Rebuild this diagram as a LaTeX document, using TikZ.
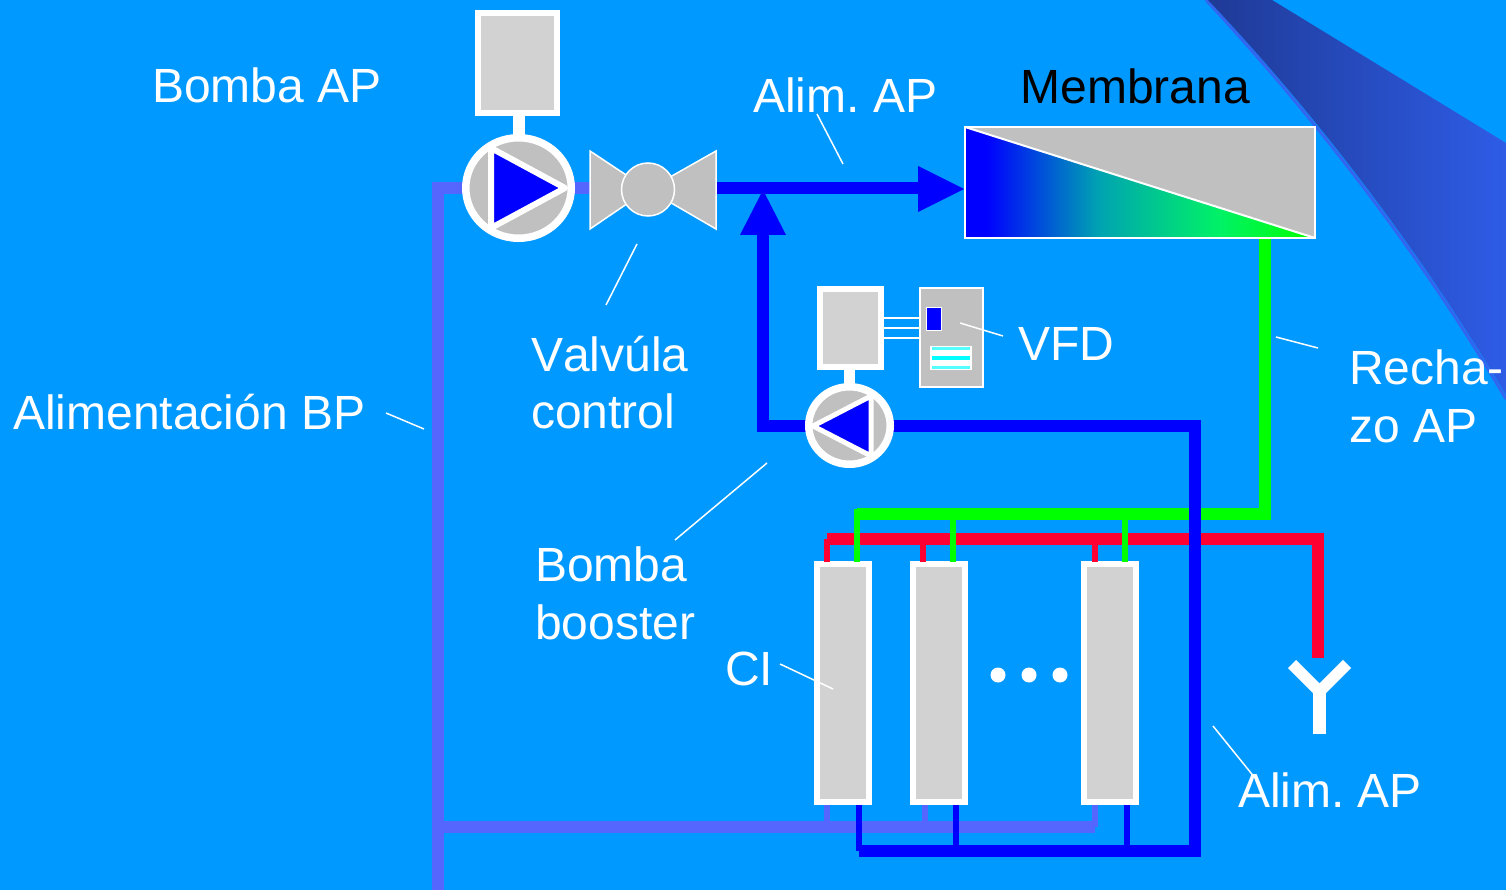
\documentclass[tikz,border=0pt]{standalone}
\usepackage{fontspec}
\usetikzlibrary{shapes.geometric}
\setmainfont[Kerning=Off]{Liberation Sans}
\definecolor{bgblue}{HTML}{0099FF}
\definecolor{lpblue}{HTML}{5566FF}
\definecolor{hpred}{HTML}{FF0033}
\definecolor{hpgreen}{HTML}{00FF00}
\definecolor{panelgray}{HTML}{C0C0C0}
\definecolor{motorgray}{HTML}{D2D2D2}
\definecolor{swoopA}{HTML}{1F3A96}
\definecolor{swoopB}{HTML}{2E5CE6}
\definecolor{swoopEdge}{HTML}{3366F0}
\definecolor{stripeA}{HTML}{00FFFF}
\definecolor{stripeB}{HTML}{55FFFF}
\definecolor{gradA}{HTML}{00A2B2}
\definecolor{gradB}{HTML}{00F266}
\pgfdeclarehorizontalshading{memgrad}{100bp}{color(0bp)=(blue); color(25bp)=(blue); color(28bp)=(blue); color(44bp)=(gradA); color(61.4bp)=(gradB); color(75bp)=(green); color(100bp)=(green)}
\tikzset{
  lbl/.style={anchor=base west,inner sep=0,outer sep=0,text=white,font=\fontsize{48}{50}\selectfont},
  leader/.style={draw=white,line width=1.5pt},
  pipeL/.style={line width=12pt,line join=miter},
  pipeS/.style={line width=6pt},
  motorbox/.style={draw=white,line width=6pt,fill=motorgray,inner sep=0,outer sep=0,rectangle},
  pumpbody/.style={ellipse,draw=white,fill=panelgray,inner sep=0,outer sep=0,line width=7.5pt},
  thin panel/.style={draw=white,line width=1.5pt,fill=panelgray},
  colbox/.style={motorbox,minimum width=52pt,minimum height=238pt},
  dotn/.style={circle,fill=white,inner sep=0,outer sep=0,minimum size=15pt}
}
\begin{document}
\begin{tikzpicture}[x=1pt,y=-1pt]
\useasboundingbox (0,0) rectangle (1506,890);
\fill[bgblue] (0,0) rectangle (1506,890);
% swoosh
\draw[swoopEdge,line width=3pt] (1206,0) .. controls (1313,115) and (1420,253) .. (1506,399);
\shade[left color=swoopA,right color=swoopB] (1208,0) .. controls (1315,113) and (1420,250) .. (1506,395) -- (1506,143) -- (1272,0) -- cycle;

% named coordinates
\coordinate (lpbot) at (438,890);
\coordinate (lpcorner) at (438,188);
\coordinate (lpbus) at (438,827);
\coordinate (lpend) at (1095,827);
\coordinate (feedstart) at (700,188);
\coordinate (boostcorner) at (763,426);
\coordinate (boosttip) at (763,190);
\coordinate (boostR) at (1195,426);
\coordinate (boostB) at (1195,851);
\coordinate (hpbusL) at (859,851);
\coordinate (rejtop) at (1265,238);
\coordinate (rejbot) at (1265,514);
\coordinate (rejL) at (857,514);
\coordinate (redL) at (827,539);
\coordinate (redR) at (1318,539);
\coordinate (redB) at (1318,658);

% columns
\node[colbox] (c1) at (843,683) {};
\node[colbox] (c2) at (939,683) {};
\node[colbox] (c3) at (1110,683) {};

% LP pipe
\draw[lpblue,pipeL] (lpbot) -- (lpcorner) -- (600,188);
\draw[lpblue,pipeL] (lpbus) -- (lpend);
\draw[lpblue,pipeS] (827,805) -- (827,827);
\draw[lpblue,pipeS] (925,805) -- (925,827);
\draw[lpblue,pipeS] (lpend) -- (1095,805);

% red
\draw[hpred,pipeS] (827,562) -- (redL);
\draw[hpred,pipeS] (923,562) -- (923,539);
\draw[hpred,pipeS] (1095,562) -- (1095,539);
\draw[hpred,pipeL] (redL) -- (redR) -- (redB);

% green
\draw[hpgreen,pipeL] (rejtop) -- (rejbot) -- (rejL);
\draw[hpgreen,pipeS] (857,562) -- (857,509);
\draw[hpgreen,pipeS] (953,562) -- (953,514);
\draw[hpgreen,pipeS] (1125,562) -- (1125,514);

% HP blue
\draw[blue,pipeS] (859,805) -- (hpbusL);
\draw[blue,pipeS] (956,805) -- (956,851);
\draw[blue,pipeS] (1127,805) -- (1127,851);
\draw[blue,pipeL] (hpbusL) -- (boostB) -- (boostR) -- (boostcorner) -- (763,225);
\draw[blue,pipeL] (feedstart) -- (925,188);
\fill[blue] (918,166) -- (964,189) -- (918,212) -- cycle;
\fill[blue] (740,235) -- (boosttip) -- (786,235) -- cycle;

% HP pump
\node[motorbox,minimum width=79pt,minimum height=100pt] (m1) at (517,63) {};
\node[pumpbody,minimum width=105.5pt,minimum height=100.5pt] (p1) at (518.5,188) {};
\draw[white,line width=12pt] (p1.north |- m1.south) -- (p1.north);
\draw[white,line width=6pt,fill=blue,line join=round] (491,148) -- (565,188) -- (491,228) -- cycle;

% Valve
\draw[thin panel] (590,151) -- (648,189.5) -- (590,229) -- cycle;
\draw[thin panel] (716,151) -- (648,189.5) -- (716,229) -- cycle;
\node[circle,thin panel,inner sep=0,minimum size=53pt] (v) at (648,189.5) {};

% Booster pump
\node[motorbox,minimum width=61pt,minimum height=78pt] (m2) at (850.5,328) {};
\node[pumpbody,minimum width=81.5pt,minimum height=77.5pt] (p2) at (849.5,425.5) {};
\draw[white,line width=11pt] (p2.north |- m2.south) -- (p2.north);
\draw[white,line width=5pt,fill=blue,line join=round] (871,396) -- (813,426) -- (871,456) -- cycle;

% VFD
\node[thin panel,rectangle,inner sep=0,outer sep=0,minimum width=63pt,minimum height=99pt] (vfd) at (951.5,337.5) {};
\draw[white,line width=1.5pt] (m2.east |- 0,318) -- (vfd.west |- 0,318);
\draw[white,line width=1.5pt] (m2.east |- 0,328) -- (vfd.west |- 0,328);
\draw[white,line width=1.5pt] (m2.east |- 0,338) -- (vfd.west |- 0,338);
\node[draw=white,line width=1.5pt,fill=blue,inner sep=0,minimum width=15pt,minimum height=23pt] (vfdled) at (934,319) {};
\node[fill=white,inner sep=0,minimum width=42pt,minimum height=24pt] (vfdpanel) at (951,358) {};
\fill[stripeB] (932,347) rectangle (970,350);
\fill[stripeA] (932,355.5) rectangle (970,360);
\fill[stripeB] (932,366) rectangle (970,369);

% Membrane
\node[draw=white,line width=2pt,fill=panelgray,inner sep=0,outer sep=0,minimum width=350pt,minimum height=111pt] (mem) at (1140,182.5) {};
\shade[shading=memgrad] (mem.north west) -- (mem.south west) -- (mem.south east) -- cycle;
\draw[white,line width=2pt] (mem.north west) -- (mem.south east);
\draw[white,line width=2pt] (mem.north west) rectangle (mem.south east);

% Y connector
\coordinate (yj) at (1319.5,691.5);
\draw[white,line width=13pt] (yj) -- (1319.5,734);
\draw[white,line width=11.5pt,line join=miter] (1292,664) -- (yj) -- (1347,664);

% dots
\node[dotn] (d1) at (998,675) {};
\node[dotn] (d2) at (1029,675) {};
\node[dotn] (d3) at (1060,675) {};

% labels
\node[lbl] (tbomba) at (152,103) {Bomba AP};
\node[lbl] (talim) at (753,113) {Alim.\hspace{-4pt} AP};
\node[lbl,text=black] (tmem) at (1020.5,104) {Membrana};
\node[lbl] (tval) at (531,371) {Valvúla};
\node[lbl] (tctl) at (531,428) {control};
\node[lbl] (tbp) at (13,429) {Alimentación BP};
\node[lbl] (tvfd) at (1018,360) {VFD};
\node[lbl] (trec) at (1349,384) {Recha-};
\node[lbl] (tzo) at (1349,442) {zo AP};
\node[lbl] (tbb) at (535,581) {Bomba};
\node[lbl] (tbo) at (535,639) {booster};
\node[lbl] (tci) at (725,685) {CI};
\node[lbl] (talim2) at (1238,807) {Alim.\hspace{-4.5pt} AP};

% leaders
\draw[leader] (817,114) -- (843,164);
\draw[leader] (637,244) -- (606,305);
\draw[leader] (386,413) -- (424,429);
\draw[leader] (767,463) -- (675,540);
\draw[leader] (780,664) -- (833,689);
\draw[leader] (960,323) -- (1003,336);
\draw[leader] (1276,337) -- (1318,348);
\draw[leader] (1213,726) -- (1255,778);
\end{tikzpicture}
\end{document}
